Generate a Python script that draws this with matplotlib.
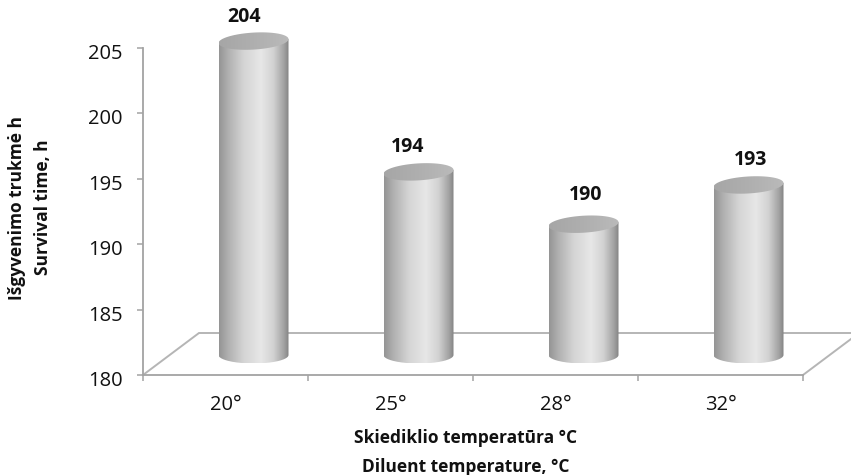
import numpy as np
import matplotlib
matplotlib.use("Agg")
import matplotlib.pyplot as plt
from matplotlib.path import Path
from matplotlib.colors import LinearSegmentedColormap
from matplotlib.transforms import ScaledTranslation

plt.rcParams['font.family'] = ['Open Sans', 'DejaVu Sans']

categories = ['20°', '25°', '28°', '32°']
values = [204, 194, 190, 193]
value_labels = ['204', '194', '190', '193']
y_ticks = [180, 185, 190, 195, 200, 205]
y_title = ['Išgyvenimo trukmė h', 'Survival time, h']
x_title = ['Skiediklio temperatūra °C', 'Diluent temperature, °C']
label_dx = [-9.5, -11, 2, 2.5]
label_gaps = [24, 25, 29, 25]

W, H = 851, 475
L, R, B, T = 143, 803, 375, 48
fig = plt.figure(figsize=(W / 100, H / 100), dpi=100)
ax = fig.add_axes([L / W, 1 - B / H, (R - L) / W, (B - T) / H])
ax.set_xlim(-0.5, 3.5)
ax.set_ylim(180, 205)
px_x = 4 / (R - L)
px_y = 25 / (B - T)
PT = 0.72
txt = '#111111'

axc = '#a3a3a3'
for s in ['top', 'right']:
    ax.spines[s].set_visible(False)
for s in ['left', 'bottom']:
    ax.spines[s].set_color(axc)
    ax.spines[s].set_linewidth(1.3)
ax.set_yticks(y_ticks)
ax.set_xticks(np.arange(-0.5, 4, 1))
ax.set_xticklabels([])
ax.tick_params(axis='both', color=axc, width=1.1, length=4.5)
ax.tick_params(axis='y', pad=10, labelsize=14.5, labelcolor=txt)
shift = ScaledTranslation(0, -3.5 / 100, fig.dpi_scale_trans)
for lab in ax.get_yticklabels():
    lab.set_transform(lab.get_transform() + shift)
ax.patch.set_alpha(0)

# floor
dx, dy = 56 * px_x, 42 * px_y
fx = [-0.5, -0.5 + dx, 3.5 + dx, 3.5]
fy = [180, 180 + dy, 180 + dy, 180]
ax.plot(fx, fy, color='#b5b5b5', lw=1.4, clip_on=False, zorder=1, solid_joinstyle='miter')

side = LinearSegmentedColormap.from_list('side', [
    (0, '#949494'), (0.12, '#aeaeae'), (0.35, '#d4d4d4'), (0.6, '#e7e7e7'),
    (0.78, '#d2d2d2'), (0.93, '#a2a2a2'), (1, '#838383')])
lid = LinearSegmentedColormap.from_list('lid', [
    (0, '#a6a6a6'), (0.5, '#afafaf'), (1, '#bababa')])
grad = np.linspace(0, 1, 256)[None, :]

hw = 35 * px_x
eh = 8.5 * px_y
tilt = 2 * px_y
ox, oy = 28 * px_x, 20 * px_y
t = np.linspace(0, np.pi, 80)

for i, v in enumerate(values):
    cx = i + ox
    base = 180 + oy
    top = v + oy
    xs = cx + hw * np.cos(t)
    low = np.column_stack([xs, base - eh * np.sin(t)])
    up = np.column_stack([xs[::-1], top - tilt * np.cos(t)])
    verts = np.vstack([low, up, low[:1]])
    im = ax.imshow(grad, cmap=side, extent=[cx - hw, cx + hw, base - eh, top + tilt],
                   aspect='auto', zorder=3, vmin=0, vmax=1, interpolation='bilinear')
    im.set_clip_box(fig.bbox)
    im.set_clip_path(Path(verts), transform=ax.transData)

    e = np.column_stack([cx + hw * np.cos(2 * t), top + eh * np.sin(2 * t) + tilt * np.cos(2 * t)])
    im2 = ax.imshow(grad, cmap=lid, extent=[cx - hw, cx + hw, top - eh - tilt, top + eh + tilt],
                    aspect='auto', zorder=4, vmin=0, vmax=1, interpolation='bilinear')
    im2.set_clip_box(fig.bbox)
    im2.set_clip_path(Path(e), transform=ax.transData)

    ax.annotate(value_labels[i], (cx, top), xytext=(label_dx[i] * PT, label_gaps[i] * PT),
                textcoords='offset points', ha='center', va='center', fontsize=14,
                fontweight='bold', color=txt, annotation_clip=False, zorder=5)

ax.set_xlim(-0.5, 3.5)
ax.set_ylim(180, 205)

for i, c in enumerate(categories):
    ax.annotate(c, (i, 180), xytext=(0, -30 * PT), textcoords='offset points', ha='center', va='center',
                fontsize=14.5, color=txt, annotation_clip=False)

title_kw = dict(ha='center', va='center', fontsize=12.5, fontweight='bold', color=txt)
fig.text(465.5 / W, 1 - 438 / H, x_title[0], **title_kw)
fig.text(466 / W, 1 - 467 / H, x_title[1], **title_kw)
fig.text(17 / W, 1 - 208 / H, y_title[0], rotation=90, **title_kw)
fig.text(43 / W, 1 - 207.5 / H, y_title[1], rotation=90, **title_kw)

fig.savefig('out.png', dpi=100)
